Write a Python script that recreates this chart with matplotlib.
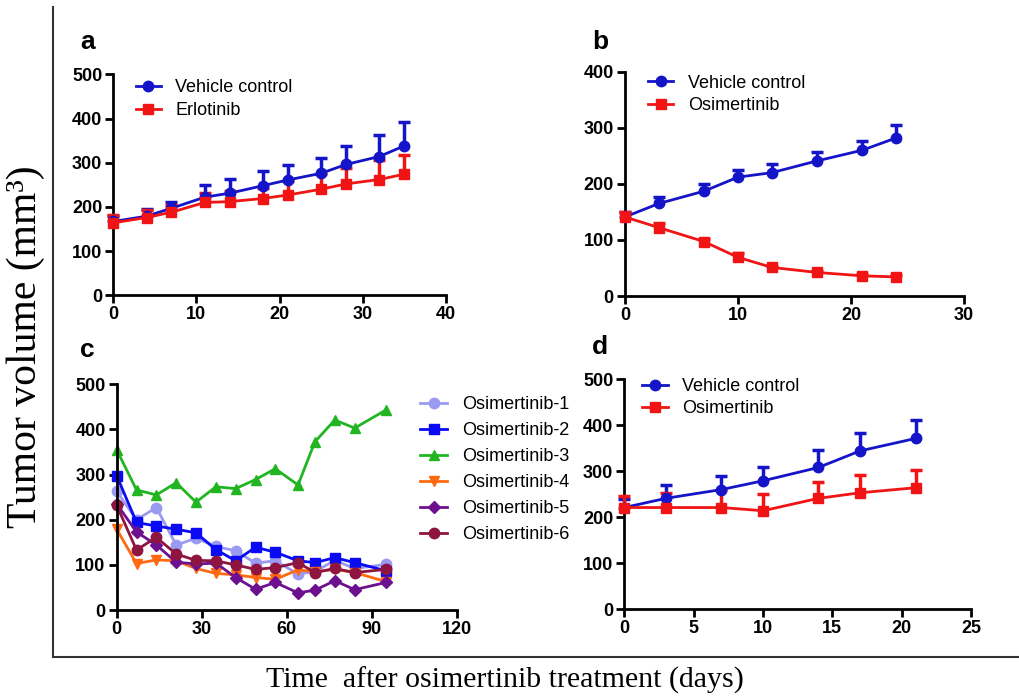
import numpy as np
import matplotlib
matplotlib.use("Agg")
import matplotlib.pyplot as plt
from matplotlib.lines import Line2D

# -----------------------------
# Data
# -----------------------------
# panel a
a_days = [0, 4, 7, 11, 14, 18, 21, 25, 28, 32, 35]
a_vehicle = [167, 179, 197, 222, 231, 248, 261, 276, 296, 314, 338]
a_vehicle_up = [180, 195, 212, 250, 263, 282, 295, 311, 338, 363, 391]
a_erlotinib = [164, 176, 188, 210, 212, 219, 227, 240, 252, 262, 274]
a_erlotinib_up = [182, 194, 204, 232, 235, 243, 258, 274, 288, 306, 318]

# panel b
b_days = [0, 3, 7, 10, 13, 17, 21, 24]
b_vehicle = [141, 165, 187, 212, 220, 241, 260, 282]
b_vehicle_up = [150, 177, 199, 225, 235, 256, 276, 305]
b_osimertinib = [141, 122, 97, 69, 51, 42, 36, 34]
b_osimertinib_up = [150, 131, 101, 76, 54, 45, 39, 37]

# panel c
c_days = [0, 7, 14, 21, 28, 35, 42, 49, 56, 64, 70, 77, 84, 95]
c_labels = ["Osimertinib-1", "Osimertinib-2", "Osimertinib-3",
            "Osimertinib-4", "Osimertinib-5", "Osimertinib-6"]
c_osi1 = [263, 200, 227, 144, 159, 141, 131, 104, 109, 80, 85, 110, 92, 101]
c_osi2 = [298, 194, 186, 179, 171, 134, 109, 139, 128, 109, 105, 116, 105, 87]
c_osi3 = [355, 266, 255, 282, 239, 273, 269, 289, 313, 277, 373, 421, 403, 443]
c_osi4 = [179, 103, 111, 109, 92, 81, 78, 72, 68, 89, 85, 90, 83, 63]
c_osi5 = [235, 173, 144, 106, 102, 104, 72, 46, 61, 38, 44, 65, 45, 61]
c_osi6 = [232, 133, 161, 124, 110, 109, 100, 90, 94, 105, 83, 92, 83, 90]

# panel d
d_days = [0, 3, 7, 10, 14, 17, 21]
d_vehicle = [221, 241, 260, 279, 308, 344, 371]
d_vehicle_up = [240, 270, 290, 310, 346, 382, 412]
d_osimertinib = [221, 221, 221, 214, 241, 253, 264]
d_osimertinib_up = [247, 252, 258, 250, 276, 292, 302]

BLUE = "#1414c8"
RED = "#f01414"
c_colors = ["#9a9af2", "#0a0af5", "#22b522", "#ff6a10", "#6c1090", "#8e1540"]
c_markers = ["o", "s", "^", "v", "D", "o"]

plt.rcParams['font.family'] = ['Liberation Sans', 'DejaVu Sans']

fig = plt.figure(figsize=(10.2, 6.97), dpi=100)


def style_axes(ax, xmax, xstep, ymax, ystep):
    ax.set_xlim(0, xmax)
    ax.set_ylim(0, ymax)
    ax.set_xticks(np.arange(0, xmax + 0.1, xstep))
    ax.set_yticks(np.arange(0, ymax + 0.1, ystep))
    for s in ["top", "right"]:
        ax.spines[s].set_visible(False)
    for s in ["left", "bottom"]:
        ax.spines[s].set_linewidth(2)
    ax.tick_params(direction="out", length=6, width=2, labelsize=13, pad=2)
    for lab in ax.get_xticklabels() + ax.get_yticklabels():
        lab.set_fontweight("bold")


def series(ax, x, y, up, color, marker, label):
    x = np.array(x); y = np.array(y); up = np.array(up)
    ax.errorbar(x, y, yerr=[np.zeros_like(y), up - y], fmt="none",
                ecolor=color, elinewidth=2.5, capsize=0, clip_on=False, zorder=3)
    ax.plot(x, up, ls="none", marker="_", ms=8, mew=2.5, color=color,
            clip_on=False, zorder=3)
    line, = ax.plot(x, y, "-", marker=marker, color=color, lw=2, ms=7.5,
                    label=label, clip_on=False, zorder=4)
    return line


leg_kw = dict(loc="upper left", frameon=False, fontsize=13, handlelength=1.4,
              labelspacing=0.3, handletextpad=0.8)

# panel a
ax_a = fig.add_axes([0.1111, 0.5763, 0.3259, 0.3171])
series(ax_a, a_days, a_vehicle, a_vehicle_up, BLUE, "o", "Vehicle control")
series(ax_a, a_days, a_erlotinib, a_erlotinib_up, RED, "s", "Erlotinib")
style_axes(ax_a, 40, 10, 500, 100)
ax_a.legend(bbox_to_anchor=(0.018, 1.05), **leg_kw)

# panel b
ax_b = fig.add_axes([0.6127, 0.5753, 0.3324, 0.3218])
series(ax_b, b_days, b_vehicle, b_vehicle_up, BLUE, "o", "Vehicle control")
series(ax_b, b_days, b_osimertinib, b_osimertinib_up, RED, "s", "Osimertinib")
style_axes(ax_b, 30, 10, 400, 100)
ax_b.legend(bbox_to_anchor=(0.02, 1.06), **leg_kw)

# panel c
ax_c = fig.add_axes([0.1144, 0.1248, 0.3333, 0.3238])
c_series = [c_osi1, c_osi2, c_osi3, c_osi4, c_osi5, c_osi6]
for vals, col, mk, lab in zip(c_series, c_colors, c_markers, c_labels):
    ax_c.plot(c_days, vals, "-", marker=mk, color=col, lw=2,
              ms=7.5 if mk != "D" else 6.5, label=lab, clip_on=False)
style_axes(ax_c, 120, 30, 500, 100)
ax_c.legend(loc="upper left", bbox_to_anchor=(0.845, 1.02), frameon=False,
            fontsize=13, handlelength=1.5, labelspacing=0.5, handletextpad=0.8)

# panel d
ax_d = fig.add_axes([0.6121, 0.1258, 0.3399, 0.3304])
series(ax_d, d_days, d_vehicle, d_vehicle_up, BLUE, "o", "Vehicle control")
series(ax_d, d_days, d_osimertinib, d_osimertinib_up, RED, "s", "Osimertinib")
style_axes(ax_d, 25, 5, 500, 100)
ax_d.legend(bbox_to_anchor=(0.005, 1.075), **leg_kw)

# panel letters
for lab, (px, py) in zip("abcd", [(80, 42), (592, 42), (80, 350), (592, 347)]):
    fig.text(px / 1020, 1 - py / 697, lab, fontsize=19, fontweight="bold",
             ha="left", va="center")

# outer frame lines
fig.add_artist(Line2D([53 / 1020, 53 / 1020], [1 - 7 / 697, 1 - 657 / 697],
                      transform=fig.transFigure, color="#333333", lw=1.5))
fig.add_artist(Line2D([53 / 1020, 1.0], [1 - 657 / 697, 1 - 657 / 697],
                      transform=fig.transFigure, color="#333333", lw=1.5))

# shared axis labels
fig.text(26 / 1020, 1 - 347 / 697, "Tumor volume (mm³)", rotation=90,
         ha="center", va="center", fontsize=30, family="Liberation Serif")
fig.text(505 / 1020, 1 - 680 / 697, "Time  after osimertinib treatment (days)",
         ha="center", va="center", fontsize=21.5, family="Liberation Serif")

fig.savefig("out.png", dpi=100)
